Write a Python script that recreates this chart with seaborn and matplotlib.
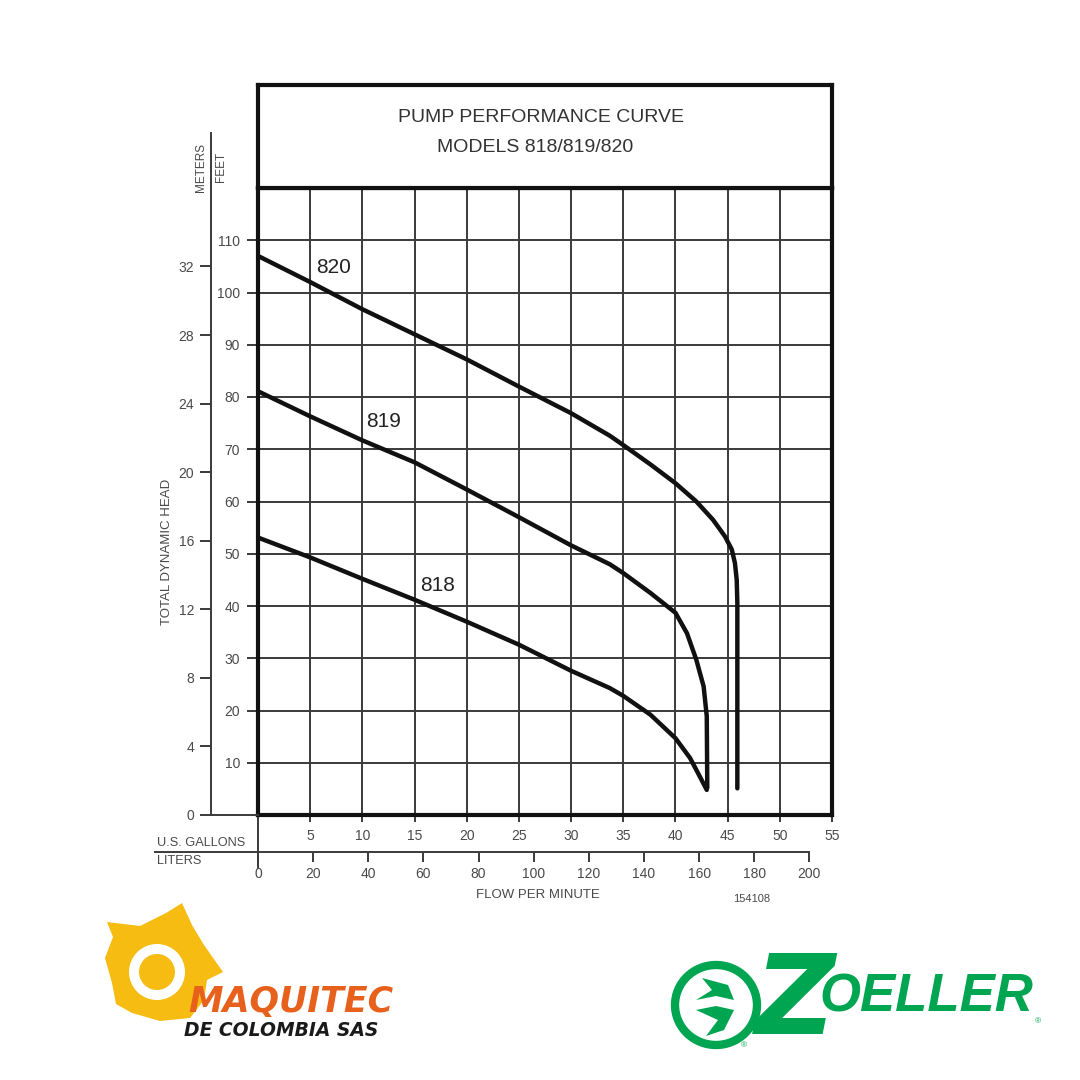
import pandas as pd
import matplotlib.pyplot as plt
import seaborn as sns
from matplotlib.patches import Circle, Ellipse, Polygon

# Pump curves: flow in US gallons per minute, head in feet
gal_818 = [0, 5, 10, 15, 20, 25, 30, 33.7, 35, 37.6, 40, 41.4, 42.35, 43.0]
head_818 = [53.1, 49.3, 45.2, 41.2, 37.0, 32.6, 27.6, 24.3, 22.8, 19.2, 14.7, 10.9, 7.3, 4.8]

gal_819 = [0, 5, 10, 15, 20, 25, 30, 33.7, 35, 37.6, 40, 41.1, 42.0, 42.7, 43.0, 43.05]
head_819 = [81.1, 76.3, 71.7, 67.5, 62.3, 57.0, 51.6, 48.0, 46.3, 42.5, 38.7, 34.8, 29.7, 24.6, 18.9, 5.2]

gal_820 = [0, 5, 10, 15, 20, 25, 30, 33.7, 35, 37.6, 40, 42, 43.6, 44.75, 45.4, 45.7, 45.87, 45.93, 45.93]
head_820 = [107.0, 102.0, 96.8, 92.0, 87.2, 82.0, 76.9, 72.6, 70.8, 67.1, 63.5, 60.0, 56.5, 53.3, 50.8, 48.2, 45.0, 40.6, 5.1]

models = ['818', '819', '820']
label_gal = [17.2, 12.0, 7.2]
label_head = [43.9, 75.3, 104.8]

gal_ticks = list(range(5, 60, 5))
feet_ticks = list(range(10, 120, 10))
meter_ticks = list(range(0, 36, 4))
liter_ticks = list(range(0, 220, 20))

rows = []
for m, g, h in zip(models, [gal_818, gal_819, gal_820], [head_818, head_819, head_820]):
    for x, y in zip(g, h):
        rows.append({'model': m, 'gpm': x, 'head': y})
curves = pd.DataFrame(rows)

sns.set_theme(style='white')
plt.rcParams['font.family'] = ['Liberation Sans Narrow', 'Liberation Sans', 'DejaVu Sans']

W = 1080
GRID = '#3a3a3a'
TXT = '#4a4a4a'
fig = plt.figure(figsize=(10.8, 10.8), dpi=100)


def box(left, top, right, bottom):
    # pixel box -> figure fraction rect
    return [left / W, 1 - bottom / W, (right - left) / W, (bottom - top) / W]


# main grid
ax = fig.add_axes(box(258, 188, 832, 815))
sns.lineplot(data=curves, x='gpm', y='head', hue='model',
             palette={m: '#111111' for m in models},
             estimator=None, sort=False, legend=False, lw=3.2, ax=ax, zorder=3,
             solid_joinstyle='round')
ax.set_xlim(0, 55)
ax.set_ylim(0, 120)
ax.set_xticks(gal_ticks)
ax.set_yticks(feet_ticks)
ax.grid(True, color=GRID, lw=1.4)
ax.tick_params(axis='x', bottom=True, length=5, width=1.4, color=GRID,
               labelsize=10, labelcolor=TXT, pad=5)
ax.tick_params(axis='y', left=True, length=8, width=1.4, color=GRID,
               labelsize=10, labelcolor=TXT, pad=5)
ax.set_xlabel('')
ax.set_ylabel('')
for s in ax.spines.values():
    s.set_linewidth(3)
    s.set_color('#111111')
for m, gx, hy in zip(models, label_gal, label_head):
    ax.text(gx, hy, m, fontsize=15, ha='center', va='center', color='#222222')
# zero line of the liters scale
ax.axvline(0, ymin=-(868 - 815) / 627, ymax=0, color=GRID, lw=1.4, clip_on=False)

# meters scale on the far left
ft_per_m = 3.28084
axm = fig.add_axes(box(211, 133, 258, 815))
axm.set_ylim(0, 120 / ft_per_m * (815 - 133) / (815 - 188))
axm.set_yticks(meter_ticks)
axm.set_xticks([])
axm.tick_params(axis='y', left=True, length=8, width=1.4, color=GRID,
                labelsize=10, labelcolor=TXT, pad=4)
axm.spines['top'].set_visible(False)
axm.spines['right'].set_visible(False)
for side in ['left', 'bottom']:
    axm.spines[side].set_linewidth(1.4)
    axm.spines[side].set_color(GRID)
axm.patch.set_alpha(0)

# liters scale under the gallons
l_per_gal = 3.78541
px_per_l = 574 / 55 / l_per_gal
axl = fig.add_axes(box(155, 851.5, 832, 852))
axl.set_xlim(-(258 - 155) / px_per_l, (832 - 258) / px_per_l)
axl.set_xticks(liter_ticks)
axl.set_yticks([])
axl.tick_params(axis='x', bottom=True, length=7, width=1.4, color=GRID,
                labelsize=10, labelcolor=TXT, pad=4)
for side in ['top', 'left', 'right']:
    axl.spines[side].set_visible(False)
axl.spines['bottom'].set_bounds(axl.get_xlim()[0], 200)
axl.spines['bottom'].set_linewidth(1.4)
axl.spines['bottom'].set_color(GRID)
axl.patch.set_alpha(0)

# title box
axt = fig.add_axes(box(258, 85, 832, 188))
axt.set_xticks([])
axt.set_yticks([])
for s in axt.spines.values():
    s.set_linewidth(3)
    s.set_color('#111111')
fig.text(541 / W, 1 - 117 / W, 'PUMP PERFORMANCE CURVE', ha='center', va='center',
         fontsize=14, color='#333333')
fig.text(535 / W, 1 - 148 / W, 'MODELS 818/819/820', ha='center', va='center',
         fontsize=14, color='#333333')

# axis captions
fig.text(167 / W, 1 - 552 / W, 'TOTAL DYNAMIC HEAD', rotation=90, ha='center', va='center',
         fontsize=9.5, color=TXT)
fig.text(201 / W, 1 - 167 / W, 'METERS', rotation=90, ha='center', va='center',
         fontsize=8.5, color=TXT)
fig.text(221 / W, 1 - 167 / W, 'FEET', rotation=90, ha='center', va='center',
         fontsize=8.5, color=TXT)
fig.text(157 / W, 1 - 843 / W, 'U.S. GALLONS', ha='left', va='center', fontsize=9.2, color=TXT)
fig.text(157 / W, 1 - 861 / W, 'LITERS', ha='left', va='center', fontsize=9.2, color=TXT)
fig.text(538 / W, 1 - 895 / W, 'FLOW PER MINUTE', ha='center', va='center', fontsize=9.5, color=TXT)
fig.text(752 / W, 1 - 899 / W, '154108', ha='center', va='center', fontsize=8, color=TXT)

# logos, drawn in pixel space
axo = fig.add_axes([0, 0, 1, 1])
axo.set_xlim(0, W)
axo.set_ylim(W, 0)
axo.axis('off')

YEL = '#F6BC12'
gear = [(107, 922), (140, 926), (166, 913), (182, 903), (192, 925), (204, 945),
        (223, 972), (207, 980), (204, 1000), (190, 1018), (160, 1021), (132, 1013),
        (116, 1004), (112, 983), (105, 958), (113, 937)]
axo.add_patch(Polygon(gear, closed=True, color=YEL, lw=0))
axo.add_patch(Circle((157, 972), 28, color='white', lw=0))
axo.add_patch(Circle((157, 972), 18, color=YEL, lw=0))
axo.text(188, 1002, 'MAQUITEC', ha='left', va='center', fontsize=25, color='#E8611C',
         fontweight='bold', fontstyle='italic', family=['DejaVu Sans'])
axo.text(184, 1030, 'DE COLOMBIA SAS', ha='left', va='center', fontsize=13.5, color='#1a1a1a',
         fontweight='bold', fontstyle='italic', family=['DejaVu Sans'])

GRN = '#00A551'
axo.add_patch(Ellipse((716, 1005), 82, 80, fill=False, ec=GRN, lw=6))
axo.add_patch(Polygon([(702, 978), (728, 985), (734, 1000), (716, 996), (696, 1000),
                       (712, 990)], closed=True, color=GRN, lw=0))
axo.add_patch(Polygon([(696, 1010), (716, 1006), (734, 1010), (724, 1030), (706, 1036),
                       (718, 1020)], closed=True, color=GRN, lw=0))
axo.text(744, 1046, '®', ha='center', va='center', fontsize=6, color=GRN)
axo.text(795, 1003, 'Z', ha='center', va='center', fontsize=80, color=GRN,
         fontweight='bold', fontstyle='italic', family=['DejaVu Sans'])
axo.text(926, 998, 'OELLER', ha='center', va='center', fontsize=38, color=GRN,
         fontweight='bold', fontstyle='italic')
axo.text(1038, 1022, '®', ha='center', va='center', fontsize=6, color=GRN)

fig.savefig('out.png', dpi=100, facecolor='white')
